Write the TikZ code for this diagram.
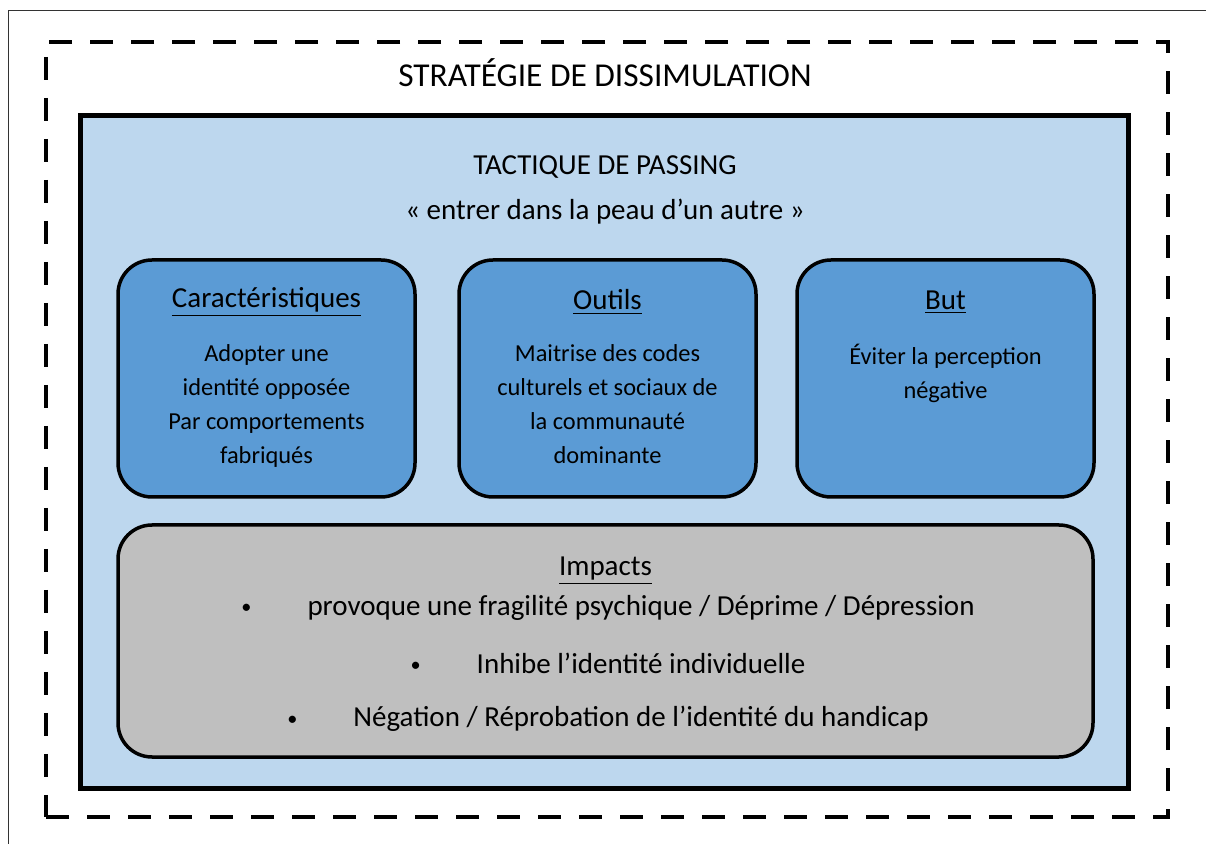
\documentclass[tikz,border=0pt]{standalone}
\usepackage{fontspec}
\setmainfont{Carlito}
\usepackage{tikz}
\definecolor{paleblue}{HTML}{BDD7EE}
\definecolor{boxblue}{HTML}{5B9BD5}
\definecolor{boxgray}{HTML}{BFBFBF}
\tikzset{
  frame/.style    = {draw=black!80, line width=0.5pt},
  strategy/.style = {draw, line width=2.25pt, dash pattern=on 11.5pt off 9pt,
                     minimum width=561pt, minimum height=387.5pt, inner sep=0pt},
  tactic/.style   = {draw, fill=paleblue, line width=2.5pt,
                     minimum width=524pt, minimum height=336pt, inner sep=0pt},
  card/.style     = {draw, fill=boxblue, rounded corners=17pt, line width=1.75pt,
                     minimum width=148.5pt, minimum height=118.5pt, inner sep=0pt},
  impact/.style   = {card, fill=boxgray, minimum width=487.5pt, minimum height=116pt},
  heading/.style  = {font=\fontsize{14.5}{17}\selectfont, inner sep=0pt},
  body/.style     = {font=\fontsize{12.2}{17}\selectfont, align=center, anchor=north, inner sep=0pt},
  item/.style     = {font=\fontsize{14.5}{17}\selectfont, inner sep=0pt}
}
\newcommand{\itemdot}{\raisebox{0.12ex}{\scalebox{0.7}{\textbullet}}\hspace{28pt}}
\begin{document}
\begin{tikzpicture}[x=0.5pt, y=-0.5pt]
  \useasboundingbox (0,0) rectangle (1206,844);
  \clip (0,0) rectangle (1206,844);
  \draw[frame] (8,11) rectangle (1220,860);

  \node[strategy] (strategy) at (607,429.5) {};
  \node[font=\fontsize{16.7}{20}\selectfont, inner sep=0pt] (strategytitle) at (605,73) {STRATÉGIE DE DISSIMULATION};

  \node[tactic] (tactic) at (604,452) {};
  \node[heading] (tactictitle) at (605,167) {TACTIQUE DE PASSING};
  \node[heading] (tacticmotto) at (605,212) {« entrer dans la peau d’un autre »};

  \node[card] (traits) at (266.5,378.5) {};
  \node[heading] (traitshead) at (266.5,302) {\underline{Caractéristiques}};
  \node[body] (traitsbody) at (266.5,344) {Adopter une\\identité opposée\\Par comportements\\fabriqués};

  \node[card] (tools) at (607.5,378.5) {};
  \node[heading] (toolshead) at (607.5,302) {\underline{Outils}};
  \node[body] (toolsbody) at (607.5,344) {Maitrise des codes\\culturels et sociaux de\\la communauté\\dominante};

  \node[card] (goal) at (945.5,378.5) {};
  \node[heading] (goalhead) at (945.5,302) {\underline{But}};
  \node[body] (goalbody) at (945.5,344) {Éviter la perception\\négative};

  \node[impact] (impacts) at (605.5,641) {};
  \node[heading] (impactshead) at (605.5,571) {\underline{Impacts}};
  \node[item] (impactone) at (608,608) {\itemdot provoque une fragilité psychique / Déprime / Dépression};
  \node[item] (impacttwo) at (608,663) {\itemdot Inhibe l’identité individuelle};
  \node[item] (impactthree) at (608,719) {\itemdot Négation / Réprobation de l’identité du handicap};
\end{tikzpicture}
\end{document}
